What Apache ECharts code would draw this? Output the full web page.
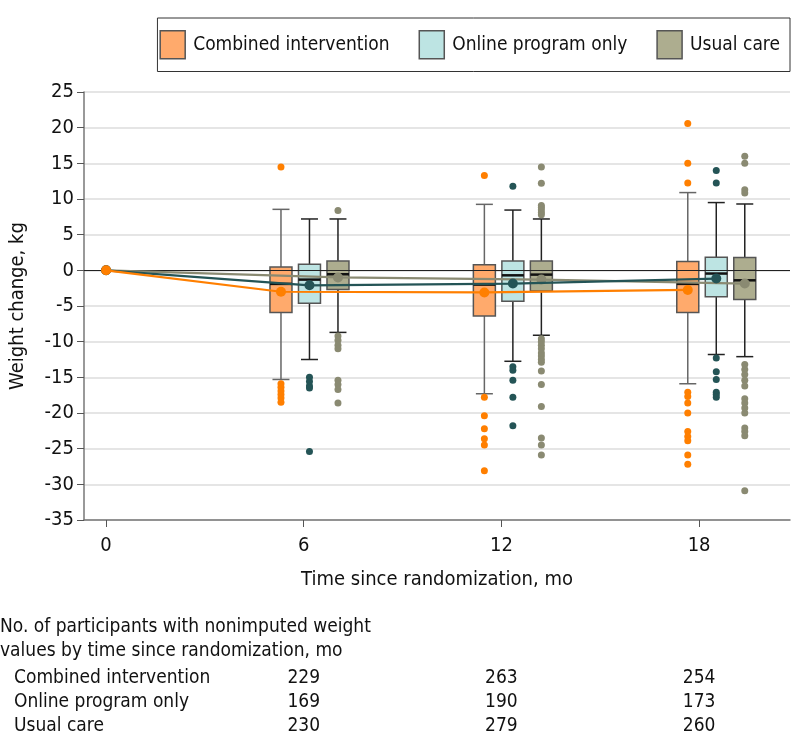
<!DOCTYPE html>
<html>
<head>
<meta charset="utf-8">
<script src="https://cdn.jsdelivr.net/npm/echarts@6/dist/echarts.min.js"></script>
<style>
  html, body { margin: 0; padding: 0; background: #fff; }
  #main { width: 794px; height: 755px; }
</style>
</head>
<body>
<div id="main"></div>
<script>
// data
var months = [6, 12, 18];
var groupNames = ['Combined intervention', 'Online program only', 'Usual care'];
// [low whisker, q1, median, q3, high whisker] per time point
var boxCombined = [[-15.3, -5.9, -1.9, 0.45, 8.55], [-17.3, -6.4, -2.0, 0.8, 9.25], [-15.9, -5.9, -1.9, 1.25, 10.9]];
var boxOnline = [[-12.5, -4.6, -1.3, 0.85, 7.2], [-12.75, -4.35, -0.7, 1.3, 8.45], [-11.8, -3.7, -0.45, 1.85, 9.5]];
var boxUsual = [[-8.7, -2.7, -0.55, 1.3, 7.2], [-9.1, -2.9, -0.6, 1.3, 7.2], [-12.1, -4.1, -1.4, 1.8, 9.3]];
// means at 0, 6, 12, 18 mo
var meanCombined = [0, -3.0, -3.1, -2.75];
var meanOnline = [0, -2.1, -1.85, -1.15];
var meanUsual = [0, -1.0, -1.3, -1.85];
// outliers per time point
var outCombined = [
  [14.5, -15.9, -16.4, -16.9, -17.4, -17.9, -18.5],
  [13.3, -17.8, -20.4, -22.2, -23.6, -24.5, -28.1],
  [20.6, 15.0, 12.25, -17.1, -17.7, -18.6, -20.0, -22.6, -23.3, -23.9, -25.9, -27.2]
];
var outOnline = [
  [-15.0, -15.6, -16.2, -16.5, -25.4],
  [11.8, -13.5, -14.0, -15.4, -17.8, -21.8],
  [14.0, 12.25, -12.3, -14.2, -15.3, -17.1, -17.4, -17.8]
];
var outUsual = [
  [8.4, -9.2, -9.8, -10.5, -11.0, -15.4, -16.0, -16.7, -18.6],
  [14.5, 12.2, 9.1, 8.8, 8.5, 8.1, 7.8, -9.6, -10.0, -10.5, -11.0, -11.6, -12.0, -12.5, -12.9, -14.1, -16.0, -19.1, -23.5, -24.5, -25.9],
  [16.0, 15.0, 11.3, 10.85, -13.2, -13.9, -14.6, -15.4, -16.2, -18.0, -18.6, -19.3, -20.0, -22.1, -22.6, -23.2, -30.9]
];
var countCombined = [229, 263, 254];
var countOnline = [169, 190, 173];
var countUsual = [230, 279, 260];
var xTicks = [0, 6, 12, 18];

var FONT = "'DejaVu Sans Condensed', 'Liberation Sans Narrow', 'DejaVu Sans', sans-serif";
var fills = ['#ffaa6c', '#bde4e3', '#adad8f'];
var dots = ['#ff7f00', '#245456', '#8a8a72'];
var whiskerCol = ['#666666', '#222222', '#222222'];

// boxes sit a little to the right of the month ticks
function boxX(t, k) {
  return t * 1.029 + (k - 1) * 0.865;
}

var chart = echarts.init(document.getElementById('main'));

function boxSeries(name, stats, k) {
  return {
    name: name,
    type: 'custom',
    z: 3,
    itemStyle: { color: fills[k], borderColor: '#555' },
    encode: { x: 0, y: [1, 2, 3, 4, 5] },
    data: months.map(function (t, i) { return [t].concat(stats[i]); }),
    renderItem: function (params, api) {
      var t = api.value(0);
      var cx = api.coord([boxX(t, k), 0])[0];
      var y = [1, 2, 3, 4, 5].map(function (d) { return api.coord([0, api.value(d)])[1]; });
      var hw = 11, cap = 8.5;
      var wl = { stroke: whiskerCol[k], lineWidth: 1.5 };
      return {
        type: 'group',
        children: [
          { type: 'line', shape: { x1: cx, y1: y[3], x2: cx, y2: y[4] }, style: wl },
          { type: 'line', shape: { x1: cx, y1: y[1], x2: cx, y2: y[0] }, style: wl },
          { type: 'line', shape: { x1: cx - cap, y1: y[4], x2: cx + cap, y2: y[4] }, style: wl },
          { type: 'line', shape: { x1: cx - cap, y1: y[0], x2: cx + cap, y2: y[0] }, style: wl },
          { type: 'rect', shape: { x: cx - hw, y: y[3], width: hw * 2, height: y[1] - y[3] },
            style: { fill: fills[k], stroke: '#555', lineWidth: 1.5 } },
          { type: 'line', shape: { x1: cx - hw, y1: y[2], x2: cx + hw, y2: y[2] },
            style: { stroke: '#111', lineWidth: 2.5 } }
        ]
      };
    }
  };
}

function outlierSeries(name, outs, k) {
  var pts = [];
  months.forEach(function (t, i) {
    outs[i].forEach(function (v) { pts.push([boxX(t, k), v]); });
  });
  return {
    name: name, type: 'scatter', z: 4, symbolSize: 7,
    itemStyle: { color: dots[k], opacity: 1 },
    data: pts, silent: true
  };
}

function meanSeries(name, means, k) {
  var pts = [[0, means[0]]];
  months.forEach(function (t, i) { pts.push([boxX(t, k), means[i + 1]]); });
  return {
    name: name, type: 'line', z: 5 + (2 - k), symbol: 'circle', symbolSize: 10,
    showSymbol: true,
    lineStyle: { color: dots[k], width: 2.2 },
    itemStyle: { color: dots[k] },
    data: pts, silent: true
  };
}

var option = {
  animation: false,
  backgroundColor: '#fff',
  textStyle: { fontFamily: FONT },
  grid: { left: 83, top: 92, right: 4, bottom: 235 },
  legend: {
    right: 4, top: 18,
    itemWidth: 25, itemHeight: 28, itemGap: 29,
    padding: [12, 10, 12, 2],
    borderColor: '#333', borderWidth: 1,
    textStyle: { fontFamily: FONT, fontSize: 19, color: '#111', padding: [0, 0, 0, 3] },
    data: groupNames.map(function (n, k) {
      return { name: n, icon: 'rect', itemStyle: { color: fills[k], borderColor: '#555', borderWidth: 1.5 } };
    })
  },
  xAxis: {
    type: 'value', min: -0.67, max: 20.76,
    name: 'Time since randomization, mo', nameLocation: 'middle', nameGap: 50,
    nameTextStyle: { fontFamily: FONT, fontSize: 20, color: '#111' },
    axisLine: { onZero: false, lineStyle: { color: '#777', width: 1.5 } },
    axisTick: { customValues: xTicks, length: 7, lineStyle: { color: '#555' } },
    axisLabel: { customValues: xTicks, fontFamily: FONT, fontSize: 20, color: '#111', margin: 16 },
    splitLine: { show: false }
  },
  yAxis: {
    type: 'value', min: -35, max: 25, interval: 5,
    name: 'Weight change, kg', nameLocation: 'middle', nameGap: 56,
    nameTextStyle: { fontFamily: FONT, fontSize: 20, color: '#111' },
    axisLine: { show: true, onZero: false, lineStyle: { color: '#777', width: 1.5 } },
    axisTick: { show: true, length: 7, lineStyle: { color: '#555' } },
    axisLabel: { fontFamily: FONT, fontSize: 20, color: '#111', margin: 10 },
    splitLine: { lineStyle: { color: '#dcdcdc', width: 1.5 } }
  },
  series: [
    {
      type: 'line', z: 2, data: [], silent: true,
      markLine: {
        silent: true, symbol: 'none', label: { show: false },
        lineStyle: { color: '#222', width: 1.2, type: 'solid' },
        data: [{ yAxis: 0 }]
      }
    },
    boxSeries(groupNames[0], boxCombined, 0),
    boxSeries(groupNames[1], boxOnline, 1),
    boxSeries(groupNames[2], boxUsual, 2),
    outlierSeries(groupNames[0], outCombined, 0),
    outlierSeries(groupNames[1], outOnline, 1),
    outlierSeries(groupNames[2], outUsual, 2),
    meanSeries(groupNames[2], meanUsual, 2),
    meanSeries(groupNames[1], meanOnline, 1),
    meanSeries(groupNames[0], meanCombined, 0)
  ]
};
chart.setOption(option);

// table of participant counts under the ticks
var tStyle = { fontFamily: FONT, fontSize: 19, fill: '#111' };
var rows = [
  [groupNames[0], countCombined],
  [groupNames[1], countOnline],
  [groupNames[2], countUsual]
];
var g = [
  { type: 'text', left: 0, top: 618, style: Object.assign({ text: 'No. of participants with nonimputed weight' }, tStyle) },
  { type: 'text', left: 0, top: 642, style: Object.assign({ text: 'values by time since randomization, mo' }, tStyle) }
];
rows.forEach(function (r, i) {
  var y = 669 + i * 24;
  g.push({ type: 'text', left: 14, top: y, style: Object.assign({ text: r[0] }, tStyle) });
  months.forEach(function (t, j) {
    var px = chart.convertToPixel({ xAxisIndex: 0 }, t);
    g.push({ type: 'text', x: px, y: y, style: Object.assign({ text: String(r[1][j]), align: 'center', verticalAlign: 'top' }, tStyle) });
  });
});
chart.setOption({ graphic: g });
</script>
</body>
</html>
